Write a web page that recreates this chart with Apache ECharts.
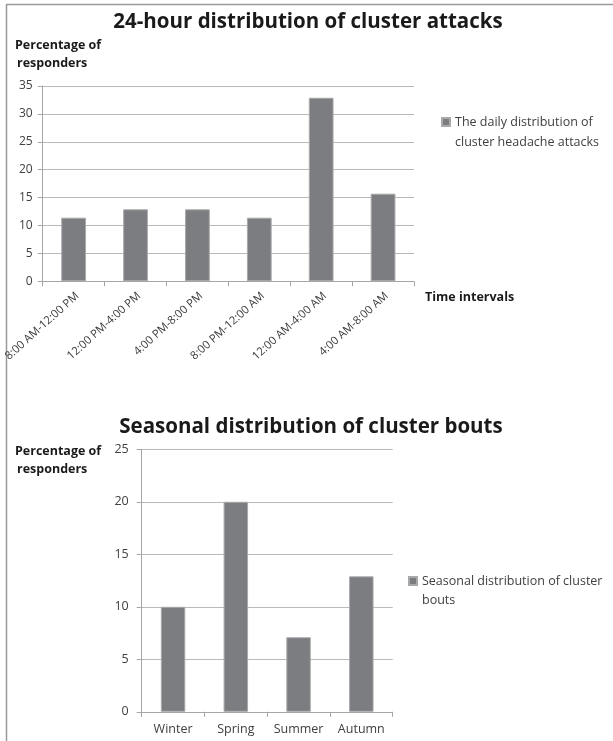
<!DOCTYPE html>
<html>
<head>
<meta charset="utf-8">
<style>
  html, body { margin: 0; padding: 0; background: #fff; }
  #chart { width: 613px; height: 741px; }
</style>
<script src="https://cdn.jsdelivr.net/npm/echarts@6/dist/echarts.min.js"></script>
</head>
<body>
<div id="chart"></div>
<script>
// 24-hour distribution of cluster attacks (% of responders)
var timeIntervals = ['8:00 AM-12:00 PM', '12:00 PM-4:00 PM', '4:00 PM-8:00 PM', '8:00 PM-12:00 AM', '12:00 AM-4:00 AM', '4:00 AM-8:00 AM'];
var dailyShare = [11.4, 12.9, 12.9, 11.4, 32.9, 15.7];
var dailySeriesName = 'The daily distribution of cluster headache attacks';

// Seasonal distribution of cluster bouts (% of responders)
var seasons = ['Winter', 'Spring', 'Summer', 'Autumn'];
var seasonalShare = [10, 20, 7.1, 12.9];
var seasonalSeriesName = 'Seasonal distribution of cluster bouts';

var FONT = '"Open Sans", Lato, sans-serif';
var BAR_FILL = '#7c7d81';
var BAR_EDGE = '#a9a9ab';
var GRID_LINE = '#b9b9b9';
var AXIS_LINE = '#a6a6a6';
var TEXT = '#404040';

function valueAxis(gridIndex, max, labelMargin, fontSize) {
  return {
    type: 'value', gridIndex: gridIndex, min: 0, max: max, interval: 5,
    axisLine: { show: true, lineStyle: { color: AXIS_LINE, width: 1 } },
    axisTick: { show: true, length: 5, lineStyle: { color: AXIS_LINE } },
    splitLine: { show: true, lineStyle: { color: GRID_LINE, width: 1.2 } },
    axisLabel: { color: TEXT, fontFamily: FONT, fontSize: fontSize, margin: labelMargin }
  };
}

function categoryAxis(gridIndex, data, labelOpts) {
  return {
    type: 'category', gridIndex: gridIndex, data: data, boundaryGap: true,
    axisLine: { show: true, lineStyle: { color: AXIS_LINE, width: 1 } },
    axisTick: { show: true, length: 5, alignWithLabel: false, lineStyle: { color: AXIS_LINE } },
    axisLabel: Object.assign({ color: TEXT, fontFamily: FONT, interval: 0 }, labelOpts)
  };
}

function boldText(x, y, text, size, align) {
  return {
    type: 'text', x: x, y: y,
    style: { text: text, fill: '#1a1a1a', font: 'bold ' + size + 'px ' + FONT, align: align || 'left', verticalAlign: 'middle' }
  };
}

// Legend text is a three-line block whose middle line sits level with the swatch
function legendLines(first, second) {
  return function () { return ' \n' + first + '\n' + second; };
}

var chart = echarts.init(document.getElementById('chart'), null, { renderer: 'canvas' });

chart.setOption({
  backgroundColor: '#ffffff',
  animation: false,
  grid: [
    { left: 42.7, right: 199, top: 86, bottom: 459.7 },
    { left: 141.7, right: 220.3, top: 449.3, bottom: 29.2 }
  ],
  xAxis: [
    categoryAxis(0, timeIntervals, { rotate: 42, fontSize: 11.3, margin: 9, verticalAlign: 'top' }),
    categoryAxis(1, seasons, { fontSize: 12.5, margin: 11 })
  ],
  yAxis: [
    valueAxis(0, 35, 10, 12),
    valueAxis(1, 25, 13, 12.5)
  ],
  legend: [
    {
      data: [dailySeriesName], left: 441, top: 92, padding: 0, icon: 'rect', itemWidth: 8, itemHeight: 8, itemGap: 4,
      formatter: legendLines('The daily distribution of', 'cluster headache attacks'),
      textStyle: { color: TEXT, fontFamily: FONT, fontSize: 12.5, lineHeight: 20 }
    },
    {
      data: [seasonalSeriesName], left: 408, top: 552.5, padding: 0, icon: 'rect', itemWidth: 8, itemHeight: 8, itemGap: 3,
      formatter: legendLines('Seasonal distribution of cluster', 'bouts'),
      textStyle: { color: TEXT, fontFamily: FONT, fontSize: 12.5, lineHeight: 19 }
    }
  ],
  series: [
    {
      name: dailySeriesName, type: 'bar', xAxisIndex: 0, yAxisIndex: 0, data: dailyShare,
      barWidth: '40%',
      itemStyle: { color: BAR_FILL, borderColor: BAR_EDGE, borderWidth: 1 }
    },
    {
      name: seasonalSeriesName, type: 'bar', xAxisIndex: 1, yAxisIndex: 1, data: seasonalShare,
      barWidth: '39%',
      itemStyle: { color: BAR_FILL, borderColor: BAR_EDGE, borderWidth: 1 }
    }
  ],
  graphic: [
    // outer frame of the figure panel
    { type: 'line', shape: { x1: 6, y1: 4.5, x2: 613, y2: 4.5 }, style: { stroke: '#9a9a9a', lineWidth: 1.5 } },
    { type: 'line', shape: { x1: 6.5, y1: 4, x2: 6.5, y2: 741 }, style: { stroke: '#9a9a9a', lineWidth: 1.5 } },
    boldText(308, 22, '24-hour distribution of cluster attacks', 20.5, 'center'),
    boldText(15, 45, 'Percentage of', 12.5),
    boldText(17, 63, 'responders', 12.5),
    boldText(425, 297, 'Time intervals', 12.5),
    boldText(311, 427, 'Seasonal distribution of cluster bouts', 20.5, 'center'),
    boldText(15, 451, 'Percentage of', 12.5),
    boldText(17, 469, 'responders', 12.5)
  ]
});
</script>
</body>
</html>
